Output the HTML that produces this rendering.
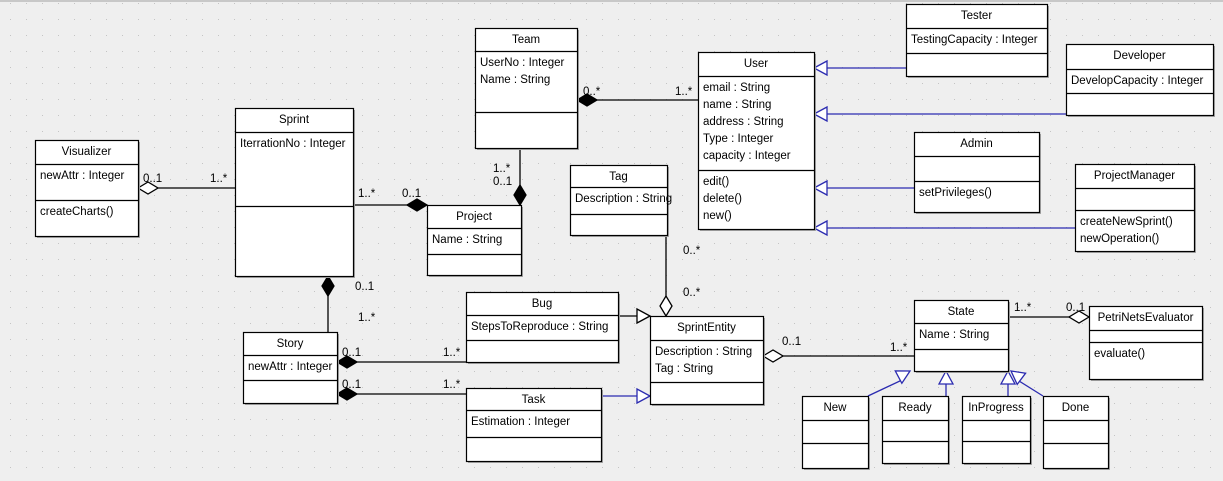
<!DOCTYPE html>
<html><head><meta charset="utf-8"><style>
html,body{margin:0;padding:0;}
body{width:1223px;height:481px;overflow:hidden;background:#eeeeee;}
svg{display:block;font-family:"Liberation Sans",Arial,sans-serif;font-size:11.5px;}
</style></head><body>
<svg id="s" width="1223" height="481" xmlns="http://www.w3.org/2000/svg">
<defs><pattern id="g" width="16" height="16" patternUnits="userSpaceOnUse" x="10" y="3"><rect x="0" y="0" width="1" height="1" fill="#c4c4c4"/></pattern></defs>
<rect width="1223" height="481" fill="#efefef"/>
<rect width="1223" height="481" fill="url(#g)"/>
<rect x="0" y="0" width="1223" height="2" fill="#c8c8c8"/>
<g id="edges" stroke="#000" fill="none" stroke-width="1.3"></g>
<g id="boxes"></g>
<g id="labels" fill="#000"></g>
</svg>
<script>
const NS="http://www.w3.org/2000/svg";
function el(p,t,a,txt){const e=document.createElementNS(NS,t);for(const k in a)e.setAttribute(k,a[k]);if(txt!==undefined)e.textContent=txt;p.appendChild(e);return e;}
const B=document.getElementById('boxes'),E=document.getElementById('edges'),L=document.getElementById('labels');
function box(x1,y1,x2,y2,d1,d2,name,attrs,ops){
 el(B,'rect',{x:x1+2,y:y1+2,width:x2-x1,height:y2-y1,fill:'#a8a8a8'});
 el(B,'rect',{x:x1+.5,y:y1+.5,width:x2-x1,height:y2-y1,fill:'#fff',stroke:'#000','stroke-width':1.2});
 el(B,'line',{x1:x1,x2:x2,y1:d1+.5,y2:d1+.5,stroke:'#000','stroke-width':1.2});
 el(B,'line',{x1:x1,x2:x2,y1:d2+.5,y2:d2+.5,stroke:'#000','stroke-width':1.2});
 el(B,'text',{x:(x1+x2)/2,y:y1+15,'text-anchor':'middle'},name);
 attrs.forEach((a,i)=>el(B,'text',{x:x1+5,y:d1+15+i*17},a));
 ops.forEach((a,i)=>el(B,'text',{x:x1+5,y:d2+15+i*17},a));
}
box(35,140,138,236,164,200,'Visualizer',['newAttr : Integer'],['createCharts()']);
box(235,108,353,276,132,206,'Sprint',['IterrationNo : Integer'],[]);
box(475,28,577,148,51,112,'Team',['UserNo : Integer','Name : String'],[]);
box(427,205,521,275,228,254,'Project',['Name : String'],[]);
box(570,165,667,235,187,214,'Tag',['Description : String'],[]);
box(698,52,814,229,76,170,'User',['email : String','name : String','address : String','Type : Integer','capacity : Integer'],['edit()','delete()','new()']);
box(906,4,1047,76,28,53,'Tester',['TestingCapacity : Integer'],[]);
box(1066,44,1213,115,69,93,'Developer',['DevelopCapacity : Integer'],[]);
box(914,132,1039,212,156,181,'Admin',[],['setPrivileges()']);
box(1075,164,1194,251,188,210,'ProjectManager',[],['createNewSprint()','newOperation()']);
box(466,292,618,362,315,340,'Bug',['StepsToReproduce : String'],[]);
box(650,316,763,404,340,382,'SprintEntity',['Description : String','Tag : String'],[]);
box(466,388,601,461,410,437,'Task',['Estimation : Integer'],[]);
box(243,332,337,403,355,380,'Story',['newAttr : Integer'],[]);
box(914,300,1008,371,323,349,'State',['Name : String'],[]);
box(1089,306,1202,379,330,342,'PetriNetsEvaluator',[],['evaluate()']);
box(802,396,868,468,420,443,'New',[],[]);
box(882,396,948,463,420,441,'Ready',[],[]);
box(962,396,1030,463,420,441,'InProgress',[],[]);
box(1043,396,1108,468,420,443,'Done',[],[]);
function line(pts,c){el(E,'polyline',{points:pts,stroke:c||'#000'});}
function dia(x,y,dx,dy,filled){const l=20,w=6,px=-dy,py=dx;
 const p=[[x,y],[x-dx*l/2+px*w,y-dy*l/2+py*w],[x-dx*l,y-dy*l],[x-dx*l/2-px*w,y-dy*l/2-py*w]];
 el(E,'polygon',{points:p.map(a=>a.join(',')).join(' '),fill:filled?'#000':'#fff',stroke:'#000'});}
function tri(x,y,dx,dy,c){const l=13,w=7,px=-dy,py=dx;
 const p=[[x,y],[x-dx*l+px*w,y-dy*l+py*w],[x-dx*l-px*w,y-dy*l-py*w]];
 el(E,'polygon',{points:p.map(a=>a.join(',')).join(' '),fill:'#fff',stroke:c});}
const BL='#2b2bb0';
line('138,188 235,188');dia(138,188,-1,0,false);
line('353,205 427,205');dia(427,205,1,0,true);
line('520,148 520,205');dia(520,205,0,1,true);
line('577,100 698,100');dia(577,100,-1,0,true);
line('328,276 328,332');dia(328,276,0,-1,true);
line('337,362 466,362');dia(337,362,-1,0,true);
line('337,394 466,394');dia(337,394,-1,0,true);
line('618,316 650,316');tri(650,316,1,0,'#000');
line('601,396 650,396',BL);tri(650,396,1,0,BL);
line('666,235 666,316');dia(666,316,0,1,false);
line('763,356 914,356');dia(763,356,-1,0,false);
line('1008,317 1089,317');dia(1089,317,1,0,false);
[[906,68],[1066,114],[914,188],[1075,228]].forEach(([x,y])=>{line(x+','+y+' 814,'+y,BL);tri(814,y,-1,0,BL);});
line('868,396 902,380',BL);tri(910,371,0.88,-0.47,BL);
line('946,396 946,384',BL);tri(946,371,0,-1,BL);
line('1008,396 1008,384',BL);tri(1008,371,0,-1,BL);
line('1043,396 1019,381',BL);tri(1011,371,-0.8,-0.6,BL);
[[143,182,'0..1'],[210,182,'1..*'],[358,197,'1..*'],[402,197,'0..1'],[493,172,'1..*'],[493,185,'0..1'],
[583,95,'0..*'],[675,95,'1..*'],[355,290,'0..1'],[358,321,'1..*'],[342,356,'0..1'],[443,356,'1..*'],
[342,388,'0..1'],[443,388,'1..*'],[683,254,'0..*'],[683,296,'0..*'],[782,345,'0..1'],[890,351,'1..*'],
[1014,311,'1..*'],[1066,311,'0..1']].forEach(([x,y,t])=>el(L,'text',{x:x,y:y},t));
</script>
</body></html>
